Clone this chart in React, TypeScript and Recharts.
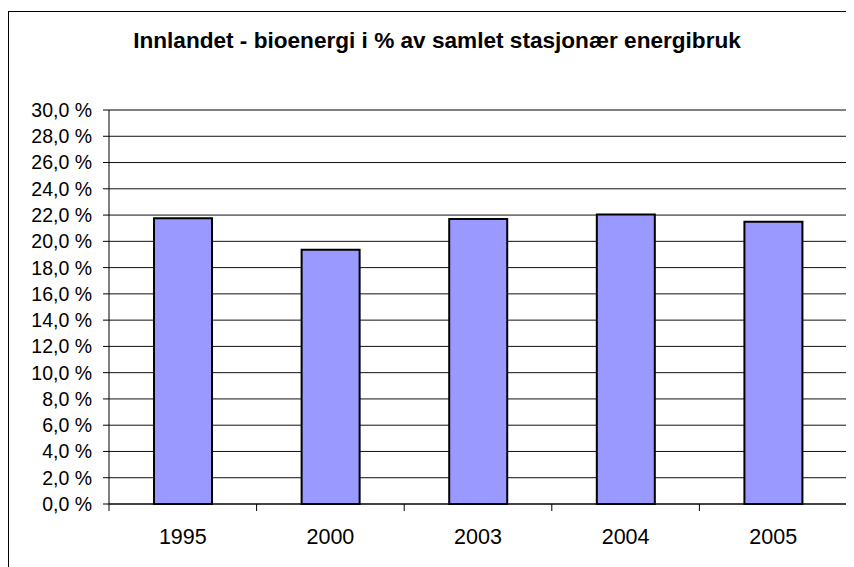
import React from 'react';
import { BarChart, Bar, XAxis, YAxis, CartesianGrid, ReferenceLine } from 'recharts';

const years = ['1995', '2000', '2003', '2004', '2005'];
const bioShare = [21.75, 19.35, 21.7, 22.05, 21.5];
const yTicks = [0, 2, 4, 6, 8, 10, 12, 14, 16, 18, 20, 22, 24, 26, 28, 30];

const data = years.map((year, i) => ({ year, value: bioShare[i] }));

const FONT = '"Liberation Sans", Arial, sans-serif';

// category label plus small tick marks on the category boundaries
function YearTick(props: any) {
  const { x, y, payload, index, visibleTicksCount } = props;
  const half = payload.offset || 0;
  const axisY = 504 - 12;
  return (
    <g>
      <line x1={x - half} x2={x - half} y1={axisY} y2={axisY + 7} stroke="#000" />
      {index === visibleTicksCount - 1 && (
        <line x1={x + half} x2={x + half} y1={axisY} y2={axisY + 7} stroke="#000" />
      )}
      <text x={x} y={y} dy="0.71em" textAnchor="middle" fill="#000" fontSize={21.5} fontFamily={FONT}>
        {payload.value}
      </text>
    </g>
  );
}

export default function App() {
  return (
    <div style={{ paddingTop: 3 }}>
      <div
        style={{
          position: 'relative',
          width: 845,
          height: 555,
          borderLeft: '1px solid #000',
          borderTop: '1px solid #000',
          background: '#fff',
        }}
      >
        <div
          style={{
            position: 'absolute',
            top: 18,
            left: 428,
            transform: 'translateX(-50%)',
            whiteSpace: 'nowrap',
            fontFamily: FONT,
            fontWeight: 'bold',
            fontSize: 22.6,
            lineHeight: '22px',
            color: '#000',
          }}
        >
          Innlandet - bioenergi i % av samlet stasjonær energibruk
        </div>
        <BarChart
          width={845}
          height={555}
          data={data}
          margin={{ top: 98, right: 7, bottom: 3, left: 20 }}
          barCategoryGap="30.5%"
        >
          <CartesianGrid vertical={false} stroke="#111" />
          <XAxis
            dataKey="year"
            axisLine={{ stroke: '#000' }}
            tickLine={false}
            height={60}
            tickMargin={19}
            tick={<YearTick />}
            interval={0}
          />
          <YAxis
            domain={[0, 30]}
            ticks={yTicks}
            interval={0}
            width={80}
            tickSize={6}
            tickMargin={11}
            axisLine={{ stroke: '#000' }}
            tickLine={{ stroke: '#000' }}
            tick={{ fill: '#000', fontSize: 19.5, fontFamily: FONT }}
            tickFormatter={(v: number) => `${v.toFixed(1).replace('.', ',')} %`}
          />
          <YAxis
            yAxisId="frame"
            orientation="right"
            width={0}
            domain={[0, 30]}
            tick={false}
            tickLine={false}
            axisLine={{ stroke: '#808080', strokeWidth: 2 }}
          />
          <ReferenceLine y={30} stroke="#808080" strokeWidth={2} />
          <Bar dataKey="value" fill="#9999FF" stroke="#000" strokeWidth={2} isAnimationActive={false} />
        </BarChart>
      </div>
    </div>
  );
}
